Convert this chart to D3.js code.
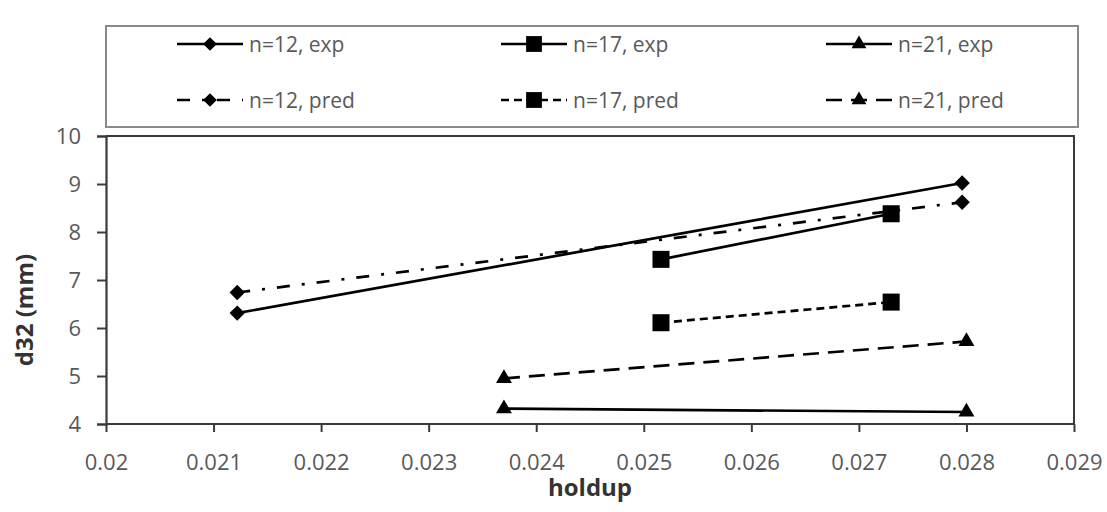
<!doctype html>
<html>
  <head>
    <script src="https://cdnjs.cloudflare.com/ajax/libs/d3/7.8.5/d3.min.js"></script>
    <style>
      body { margin: 0; background: #fff; }
      text { font-family: "Open Sans", sans-serif; }
    </style>
  </head>
  <body>
    <svg></svg>
    <script>
      var width = 1107,
          height = 512;

      // data
      var seriesNames = ["n=12, exp", "n=17, exp", "n=21, exp", "n=12, pred", "n=17, pred", "n=21, pred"];
      var holdup12 = [0.02122, 0.02796];
      var holdup17 = [0.02516, 0.02730];
      var holdup21 = [0.02370, 0.02800];
      var d32exp12 = [6.31, 9.02];
      var d32exp17 = [7.43, 8.38];
      var d32exp21 = [4.32, 4.25];
      var d32pred12 = [6.74, 8.62];
      var d32pred17 = [6.11, 6.54];
      var d32pred21 = [4.95, 5.72];
      var xTicks = [0.02, 0.021, 0.022, 0.023, 0.024, 0.025, 0.026, 0.027, 0.028, 0.029];
      var yTicks = [4, 5, 6, 7, 8, 9, 10];

      var series = [
        {name: seriesNames[0], x: holdup12, y: d32exp12, marker: "diamond", dash: null},
        {name: seriesNames[1], x: holdup17, y: d32exp17, marker: "square", dash: null},
        {name: seriesNames[2], x: holdup21, y: d32exp21, marker: "triangle", dash: null},
        {name: seriesNames[3], x: holdup12, y: d32pred12, marker: "diamond", dash: "13,12,3,12"},
        {name: seriesNames[4], x: holdup17, y: d32pred17, marker: "square", dash: "8,5"},
        {name: seriesNames[5], x: holdup21, y: d32pred21, marker: "triangle", dash: "16,9"}
      ];

      var plot = {left: 106, right: 1074, top: 136, bottom: 424};
      var svg = d3.select("svg").attr("width", width).attr("height", height);

      var x = d3.scaleLinear().domain([0.02, 0.029]).range([plot.left, plot.right]);
      var y = d3.scaleLinear().domain([4, 10]).range([plot.bottom, plot.top]);

      var symbols = {
        diamond: d3.symbol().type(d3.symbolDiamond2).size(150),
        square: d3.symbol().type(d3.symbolSquare).size(290),
        triangle: d3.symbol().type(d3.symbolTriangle).size(110)
      };
      var legSymbols = {
        diamond: d3.symbol().type(d3.symbolDiamond2).size(120),
        square: d3.symbol().type(d3.symbolSquare).size(250),
        triangle: d3.symbol().type(d3.symbolTriangle).size(95)
      };
      var axisColor = "#3a3a3a", textColor = "#595959";

      // plot frame (top and right)
      svg.append("path")
        .attr("d", "M" + plot.left + "," + plot.top + "H" + plot.right + "V" + plot.bottom)
        .attr("fill", "none").attr("stroke", axisColor).attr("stroke-width", 2);

      // axes
      var xAxis = svg.append("g")
        .attr("transform", "translate(0," + plot.bottom + ")")
        .call(d3.axisBottom(x).tickValues(xTicks).tickFormat(d3.format("")).tickSizeOuter(0).tickSize(8).tickPadding(22));
      var yAxis = svg.append("g")
        .attr("transform", "translate(" + plot.left + ",0)")
        .call(d3.axisLeft(y).tickValues(yTicks).tickFormat(d3.format("d")).tickSizeOuter(0).tickSize(9).tickPadding(16));
      [xAxis, yAxis].forEach(function(a) {
        a.select(".domain").attr("stroke", axisColor).attr("stroke-width", 2.2);
        a.selectAll(".tick line").attr("stroke", axisColor).attr("stroke-width", 2);
        a.selectAll(".tick text").attr("fill", textColor).style("font-size", "22px");
      });
      xAxis.select(".domain").attr("d", "M" + plot.left + ",0H" + plot.right);

      // axis titles
      svg.append("text")
        .attr("x", (plot.left + plot.right) / 2).attr("y", 496)
        .attr("text-anchor", "middle").attr("fill", "#333")
        .style("font-size", "24px").style("font-weight", "bold")
        .text("holdup");
      svg.append("text")
        .attr("transform", "translate(33,310) rotate(-90)")
        .attr("text-anchor", "middle").attr("fill", "#333")
        .style("font-size", "24px").style("font-weight", "bold")
        .text("d32 (mm)");

      // lines and markers
      var line = d3.line().x(function(d) { return x(d[0]); }).y(function(d) { return y(d[1]); });
      series.forEach(function(s) {
        var pts = d3.zip(s.x, s.y);
        svg.append("path")
          .attr("d", line(pts))
          .attr("fill", "none").attr("stroke", "#000").attr("stroke-width", 2.7)
          .attr("stroke-dasharray", s.dash);
        svg.selectAll(null).data(pts).enter().append("path")
          .attr("d", symbols[s.marker])
          .attr("transform", function(d) { return "translate(" + x(d[0]) + "," + y(d[1]) + ")"; })
          .attr("fill", "#000");
      });

      // legend
      svg.append("rect")
        .attr("x", 106).attr("y", 26).attr("width", 972).attr("height", 101)
        .attr("fill", "none").attr("stroke", "#8a8a8a").attr("stroke-width", 2);
      var legCols = [177, 501, 826], legRows = [44, 100];
      var leg = svg.selectAll("g.leg").data(series).enter().append("g")
        .attr("transform", function(d, i) { return "translate(" + legCols[i % 3] + "," + legRows[Math.floor(i / 3)] + ")"; });
      leg.append("line")
        .attr("x1", 0).attr("x2", 66).attr("y1", 0).attr("y2", 0)
        .attr("stroke", "#000").attr("stroke-width", 2.7)
        .attr("stroke-dasharray", function(d) { return d.dash; });
      leg.append("path")
        .attr("d", function(d) { return legSymbols[d.marker](); })
        .attr("transform", "translate(33,0)")
        .attr("fill", "#000");
      leg.append("text")
        .attr("x", 72).attr("y", 8)
        .attr("fill", textColor).style("font-size", "21px")
        .text(function(d) { return d.name; });
    </script>
  </body>
</html>
